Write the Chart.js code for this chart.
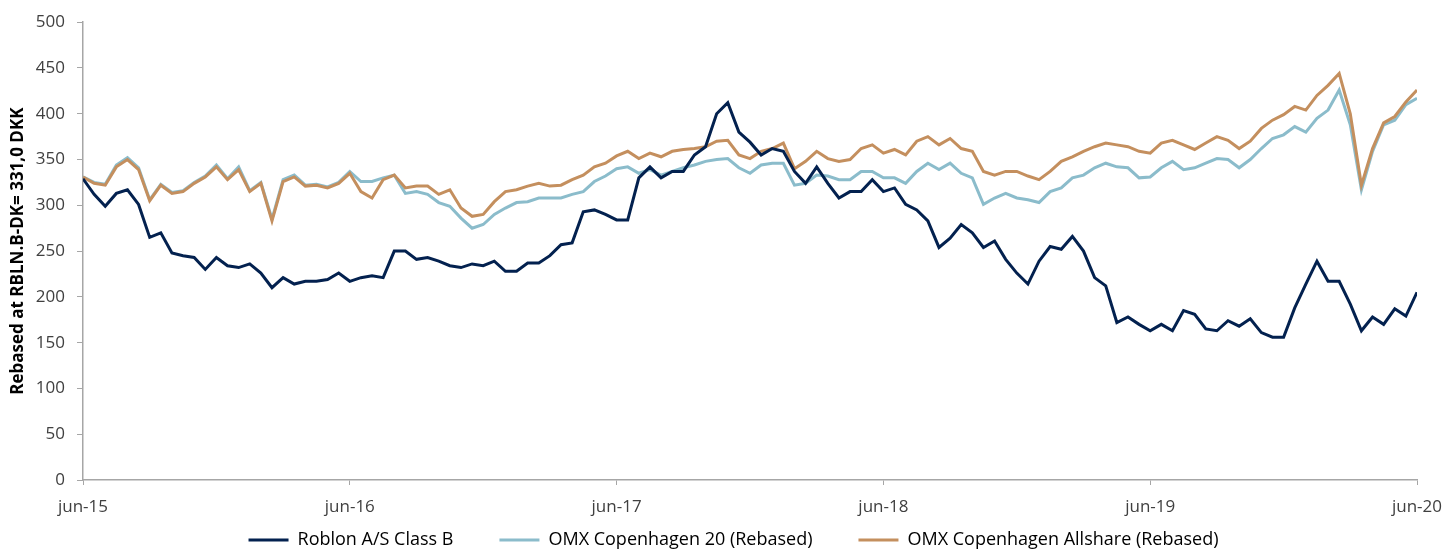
<!DOCTYPE html>
<html>
<head>
<meta charset="utf-8">
<script src="https://cdn.jsdelivr.net/npm/chart.js@4.4.1/dist/chart.umd.min.js"></script>
<style>
  html, body { margin: 0; padding: 0; background: #fff; }
  #wrap { width: 1447px; height: 550px; }
</style>
</head>
<body>
<div id="wrap"><canvas id="myChart"></canvas></div>
<script>
// one value every half month, jun-15 .. jun-20
var stepMonths = 0.5
var tickLabels = ['jun-15', 'jun-16', 'jun-17', 'jun-18', 'jun-19', 'jun-20']
var seriesNames = ['Roblon A/S Class B', 'OMX Copenhagen 20 (Rebased)', 'OMX Copenhagen Allshare (Rebased)']

var roblon = [
  329, 312, 299, 313, 317, 301, 265, 270, 248, 245, 243, 230, 243, 234, 232, 236, 226, 210, 221, 214, 217, 217, 219, 226, 217,
  221, 223, 221, 250, 250, 241, 243, 239, 234, 232, 236, 234, 239, 228, 228, 237, 237, 245, 257, 259, 293, 295, 290, 284,
  284, 330, 342, 330, 337, 337, 355, 364, 400, 412, 380, 369, 355, 362, 359, 337, 324, 342, 324, 308, 315, 315, 328, 315,
  319, 301, 295, 283, 254, 264, 279, 270, 254, 261, 241, 226, 214, 239, 255, 252, 266, 250, 221, 212, 172, 178, 170, 163,
  170, 163, 185, 181, 165, 163, 174, 168, 176, 161, 156, 156, 188, 214, 239, 217, 217, 192, 163, 178, 170, 187, 179, 205
]
var omxc20 = [
  331, 325, 323, 344, 352, 341, 306, 323, 314, 316, 325, 332, 344, 329, 342, 316, 325, 285, 328, 333, 322, 323, 320, 325, 337,
  326, 326, 330, 333, 313, 315, 312, 303, 299, 286, 275, 279, 290, 297, 303, 304, 308, 308, 308, 312, 315, 326, 332, 340,
  342, 335, 339, 333, 337, 341, 344, 348, 350, 351, 341, 335, 344, 346, 346, 322, 324, 333, 332, 328, 328, 337, 337, 330,
  330, 324, 337, 346, 339, 346, 335, 330, 301, 308, 313, 308, 306, 303, 315, 319, 330, 333, 341, 346, 342, 341, 330, 331,
  341, 348, 339, 341, 346, 351, 350, 341, 350, 362, 373, 377, 386, 380, 395, 404, 426, 388, 317, 359, 388, 393, 410, 417
]
var omxcAll = [
  331, 324, 322, 342, 350, 339, 305, 322, 313, 315, 324, 331, 342, 328, 339, 315, 324, 283, 326, 331, 321, 322, 319, 324, 335,
  315, 308, 328, 333, 319, 321, 321, 312, 317, 297, 288, 290, 304, 315, 317, 321, 324, 321, 322, 328, 333, 342, 346, 354,
  359, 351, 357, 353, 359, 361, 362, 364, 370, 371, 355, 351, 359, 362, 368, 340, 348, 359, 351, 348, 350, 362, 366, 357,
  361, 355, 370, 375, 366, 373, 362, 359, 337, 333, 337, 337, 332, 328, 337, 348, 353, 359, 364, 368, 366, 364, 359, 357,
  368, 371, 366, 361, 368, 375, 371, 362, 370, 384, 393, 399, 408, 404, 420, 431, 444, 400, 322, 362, 390, 397, 413, 426
]

var colors = ['#03214f', '#8bbccb', '#c48f5e']

function toPoints(values) {
    var pts = []
    for (var i = 0; i < values.length; i++) {
        pts.push({ x: i * stepMonths, y: values[i] })
    }
    return pts
}

var textColor = '#404040'
var axisColor = '#a6a6a6'
var tickFont = { family: 'Open Sans', size: 17 }
var legendFont = { family: 'Open Sans', size: 18 }

// the legend needs wide gaps between items but sits close under the axis labels
const legendNudge = {
    id: 'legendNudge',
    afterLayout: function (chart) {
        var lg = chart.legend
        lg.top = 540 - lg.options.labels.padding - legendFont.size / 2
        lg.bottom = chart.height
        lg.height = lg.bottom - lg.top
        lg.left += 25
        lg.right += 25
    }
}

const ctx = document.getElementById('myChart');
const myChart = new Chart(ctx, {
    type: 'line',
    data: {
        datasets: [
            { label: seriesNames[0], data: toPoints(roblon), borderColor: colors[0], backgroundColor: colors[0], order: 0 },
            { label: seriesNames[1], data: toPoints(omxc20), borderColor: colors[1], backgroundColor: colors[1], order: 2 },
            { label: seriesNames[2], data: toPoints(omxcAll), borderColor: colors[2], backgroundColor: colors[2], order: 1 }
        ]
    },
    plugins: [legendNudge],
    options: {
        responsive: true,
        maintainAspectRatio: false,
        animation: false,
        layout: { padding: { top: 20, right: 30, bottom: 0, left: 0 } },
        elements: {
            line: { borderWidth: 3, tension: 0 },
            point: { radius: 0 }
        },
        plugins: {
            tooltip: { enabled: false },
            legend: {
                position: 'bottom',
                maxHeight: 28,
                labels: {
                    color: textColor,
                    font: legendFont,
                    boxWidth: 40,
                    boxHeight: 3,
                    padding: 46,
                    generateLabels: function (chart) {
                        return chart.data.datasets.map(function (ds, i) {
                            return { text: ds.label, fillStyle: ds.borderColor, strokeStyle: ds.borderColor, lineWidth: 0, datasetIndex: i }
                        })
                    }
                }
            }
        },
        scales: {
            x: {
                type: 'linear',
                min: 0,
                max: 60,
                afterFit: function (s) {
                    s.height = 42
                    s.paddingLeft = 0
                    s.paddingRight = 0
                },
                ticks: {
                    stepSize: 12,
                    color: textColor,
                    font: tickFont,
                    padding: 12,
                    maxRotation: 0,
                    callback: function (v) { return tickLabels[v / 12] }
                },
                grid: { drawOnChartArea: false, color: axisColor, tickLength: 5 },
                border: { color: axisColor, width: 1.5 }
            },
            y: {
                min: 0,
                max: 500,
                afterFit: function (s) { s.width = 83 },
                ticks: { stepSize: 50, color: textColor, font: tickFont, padding: 12 },
                grid: { drawOnChartArea: false, color: axisColor, tickLength: 6 },
                border: { color: axisColor, width: 1.5 },
                title: {
                    display: true,
                    text: 'Rebased at RBLN.B-DK= 331,0 DKK',
                    color: '#000',
                    font: { family: 'Open Sans', size: 17, weight: 'bold' },
                    padding: { top: 8, bottom: 0 }
                }
            }
        }
    }
});
</script>
</body>
</html>
